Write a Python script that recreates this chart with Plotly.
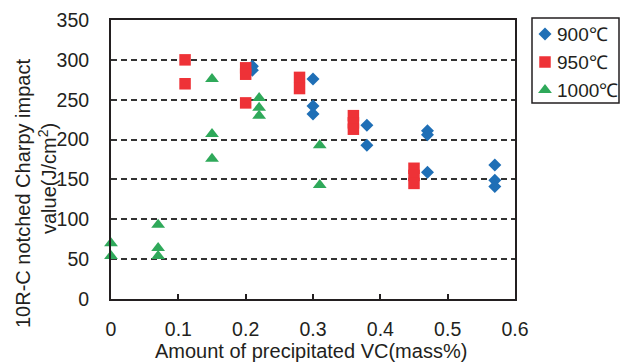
import plotly.graph_objects as go

# ---- data ----
x_900 = [0.21, 0.21, 0.30, 0.30, 0.30, 0.38, 0.38, 0.47, 0.47, 0.47, 0.57, 0.57, 0.57]
y_900 = [292, 287, 276, 242, 232, 218, 193, 211, 206, 159, 168, 149, 141]

x_950 = [0.11, 0.11, 0.20, 0.20, 0.20, 0.28, 0.28, 0.36, 0.36, 0.36, 0.45, 0.45, 0.45]
y_950 = [300, 270, 290, 282, 246, 278, 264, 230, 221, 213, 164, 155, 145]

x_1000 = [0.0, 0.0, 0.07, 0.07, 0.07, 0.15, 0.15, 0.15, 0.22, 0.22, 0.22, 0.31, 0.31]
y_1000 = [70, 54, 93, 64, 54, 276, 207, 176, 252, 240, 230, 193, 143]

series_names = ["900℃", "950℃", "1000℃"]
x_ticks = [0, 0.1, 0.2, 0.3, 0.4, 0.5, 0.6]
x_tick_labels = ["0", "0.1", "0.2", "0.3", "0.4", "0.5", "0.6"]
y_ticks = [0, 50, 100, 150, 200, 250, 300, 350]

x_title = "Amount of precipitated VC(mass%)"
y_title_1 = "10R-C notched Charpy impact"
y_title_2 = "value(J/cm<sup>2</sup>)"

# ---- style ----
FONT = "Liberation Sans, Arial, sans-serif"
TXT = "#231f20"
colors = ["#1f6fb6", "#ee3237", "#2fa95a"]
symbols = ["diamond", "square", "triangle-up"]
sizes = [10, 11.5, 12]

W, H = 622, 363
# plot area in pixels
PL, PR, PT, PB = 111, 515, 20, 299
# legend box in pixels
LL, LR, LT, LB = 532, 619, 18, 103
leg_rows = [34, 62, 90]
leg_marker_x = 545
leg_text_x = 555


def fx(px):
    return px / W


def fy(py):
    return 1 - py / H


fig = go.Figure()
for name, xs, ys, c, s, sz in zip(series_names, [x_900, x_950, x_1000], [y_900, y_950, y_1000],
                                 colors, symbols, sizes):
    fig.add_trace(go.Scatter(
        x=xs, y=ys, mode="markers", name=name, showlegend=False,
        marker=dict(color=c, symbol=s, size=sz, line=dict(width=0)),
        cliponaxis=False,
    ))

# hand-made legend on its own small axes
annotations = []
for name, c, s, sz, row in zip(series_names, colors, symbols, sizes, leg_rows):
    fig.add_trace(go.Scatter(
        x=[leg_marker_x], y=[row], xaxis="x2", yaxis="y2", mode="markers",
        name=name, showlegend=False, hoverinfo="skip",
        marker=dict(color=c, symbol=s, size=sz, line=dict(width=0)),
        cliponaxis=False,
    ))
    annotations.append(dict(text=name, xref="x2", yref="y2", x=leg_text_x, y=row,
                            xanchor="left", yanchor="middle", showarrow=False,
                            font=dict(family=FONT, size=19, color=TXT)))

annotations += [
    dict(text=x_title, xref="paper", yref="paper", x=fx(310.5), y=fy(351),
         xanchor="center", yanchor="middle", showarrow=False,
         font=dict(family=FONT, size=20, color=TXT)),
    dict(text=y_title_1, xref="paper", yref="paper", x=fx(23), y=fy(194),
         xanchor="center", yanchor="middle", showarrow=False, textangle=-90,
         font=dict(family=FONT, size=20, color=TXT)),
    dict(text=y_title_2, xref="paper", yref="paper", x=fx(47), y=fy(179),
         xanchor="center", yanchor="middle", showarrow=False, textangle=-90,
         font=dict(family=FONT, size=20, color=TXT)),
]

fig.update_layout(
    width=W, height=H,
    margin=dict(l=0, r=0, t=0, b=0, autoexpand=False),
    paper_bgcolor="white", plot_bgcolor="white",
    font=dict(family=FONT, color=TXT, size=18),
    showlegend=False,
    annotations=annotations,
    shapes=[dict(type="rect", xref="paper", yref="paper",
                 x0=fx(LL), x1=fx(LR), y0=fy(LB), y1=fy(LT),
                 line=dict(color=TXT, width=1.5), fillcolor="rgba(0,0,0,0)", layer="below")],
    xaxis=dict(
        domain=[fx(PL), fx(PR)], automargin=False,
        range=[0, 0.6], tickvals=x_ticks, ticktext=x_tick_labels,
        showgrid=False, zeroline=False,
        showline=True, linecolor=TXT, linewidth=2, mirror=True,
        ticks="inside", ticklen=5, tickwidth=1.5, tickcolor=TXT,
        ticklabelstandoff=12,
        tickfont=dict(family=FONT, size=19.5, color=TXT),
    ),
    yaxis=dict(
        domain=[fy(PB), fy(PT)], automargin=False,
        range=[0, 350], tickvals=y_ticks,
        showgrid=True, gridcolor="#333333", gridwidth=1.5, griddash="6px,4px",
        zeroline=False,
        showline=True, linecolor=TXT, linewidth=2, mirror=True,
        ticks="", ticklabelstandoff=16,
        tickfont=dict(family=FONT, size=19.5, color=TXT),
    ),
    xaxis2=dict(domain=[fx(LL), fx(LR)], range=[LL, LR], anchor="y2",
                visible=False, fixedrange=True, automargin=False),
    yaxis2=dict(domain=[fy(LB), fy(LT)], range=[LB, LT], anchor="x2",
                visible=False, fixedrange=True, automargin=False),
)

fig.write_html("out.html")
